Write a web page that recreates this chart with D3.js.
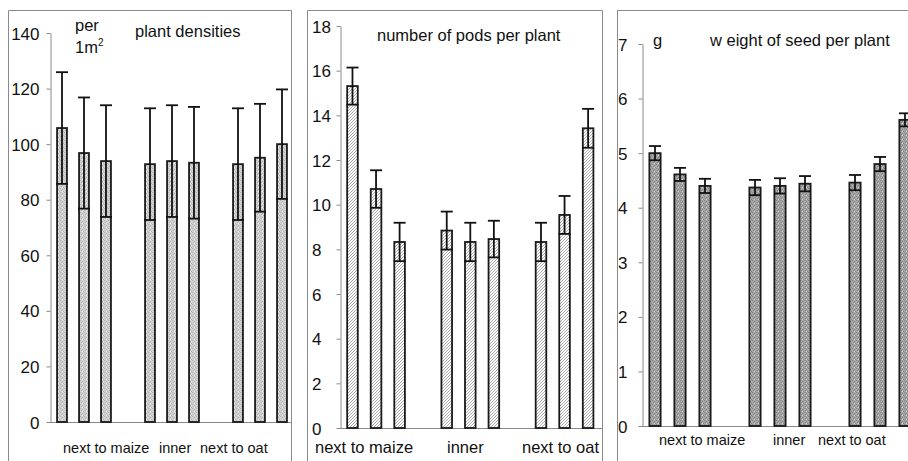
<!DOCTYPE html>
<html>
<head>
<meta charset="utf-8">
<script src="https://cdn.jsdelivr.net/npm/d3@7/dist/d3.min.js"></script>
<style>
  html, body { margin: 0; padding: 0; background: #fff; }
  svg { display: block; font-family: "Liberation Sans", Arial, sans-serif; }
</style>
</head>
<body>
<svg id="chart" width="908" height="461"></svg>
<script>
// Plot positions: three plots per location, with an empty slot between locations
const slots = ["m1", "m2", "m3", "gap1", "i1", "i2", "i3", "gap2", "o1", "o2", "o3"];
const barSlots = ["m1", "m2", "m3", "i1", "i2", "i3", "o1", "o2", "o3"];
const locations = ["next to maize", "inner", "next to oat"];

// Plant densities (plants per 1 m²), mean and error
const densityMean = [105.8, 96.8, 93.9, 92.8, 93.9, 93.3, 92.8, 95.1, 100.0];
const densityErr  = [20.1, 20.0, 20.1, 20.1, 20.1, 20.1, 20.1, 19.4, 19.7];
const densityTicks = [0, 20, 40, 60, 80, 100, 120, 140];

// Number of pods per plant
const podsMean = [15.31, 10.70, 8.33, 8.84, 8.33, 8.46, 8.33, 9.54, 13.42];
const podsErr  = [0.83, 0.84, 0.86, 0.85, 0.86, 0.82, 0.86, 0.85, 0.87];
const podsTicks = [0, 2, 4, 6, 8, 10, 12, 14, 16, 18];

// Weight of seed per plant (g)
const seedMean = [5.00, 4.61, 4.40, 4.37, 4.40, 4.44, 4.46, 4.80, 5.61];
const seedErr  = [0.13, 0.12, 0.13, 0.14, 0.14, 0.14, 0.14, 0.13, 0.12];
const seedTicks = [0, 1, 2, 3, 4, 5, 6, 7];

const svg = d3.select("#chart");
const defs = svg.append("defs");

// Fill patterns: light stipple, diagonal hatch, dark stipple
function stipple(id, base, dark, light) {
  const p = defs.append("pattern").attr("id", id)
    .attr("patternUnits", "userSpaceOnUse").attr("width", 4).attr("height", 4);
  p.append("rect").attr("width", 4).attr("height", 4).attr("fill", base);
  [[0, 0], [2, 1], [1, 2], [3, 3]].forEach(([x, y]) =>
    p.append("rect").attr("x", x).attr("y", y).attr("width", 1).attr("height", 1).attr("fill", dark));
  p.append("rect").attr("x", 2).attr("y", 3).attr("width", 1).attr("height", 1).attr("fill", light);
}
stipple("stippleLight", "#d2d2d2", "#b0b0b0", "#f0f0f0");
stipple("stippleDark", "#a6a6a6", "#848484", "#d4d4d4");
{
  const p = defs.append("pattern").attr("id", "hatch")
    .attr("patternUnits", "userSpaceOnUse").attr("width", 3).attr("height", 3);
  p.append("rect").attr("width", 3).attr("height", 3).attr("fill", "#fff");
  p.append("path").attr("d", "M-1,1 L1,-1 M0,3 L3,0 M2,4 L4,2")
    .attr("stroke", "#a0a0a0").attr("stroke-width", 0.9);
}

const panels = [
  {
    frame: [8.5, 10.5, 291.5], mean: densityMean, err: densityErr, ticks: densityTicks,
    domain: [0, 140], yRange: [422, 33], xRange: [51, 293], axisX: 50,
    fill: "url(#stippleLight)", tickAnchor: "end", tickX: 39.5, tickSize: 17,
    title: { text: "plant densities", x: 135, y: 37, size: 16.5 },
    unit: [{ text: "per", x: 75, y: 31 }, { text: "1m", sup: "2", x: 75, y: 53 }],
    labels: { x: [63, 159, 200], y: 453, size: 14.5 }
  },
  {
    frame: [307.5, 10.5, 602.5], mean: podsMean, err: podsErr, ticks: podsTicks,
    domain: [0, 18], yRange: [428, 26], xRange: [340.7, 599.9], axisX: 340,
    fill: "url(#hatch)", tickAnchor: "start", tickX: 312, tickSize: 17,
    title: { text: "number of pods per plant", x: 377, y: 41, size: 16.5 },
    unit: [],
    labels: { x: [315, 447, 522], y: 453, size: 16.5 }
  },
  {
    frame: [617.5, 10.5, 930], mean: seedMean, err: seedErr, ticks: seedTicks,
    domain: [0, 7], yRange: [426, 44], xRange: [642.5, 917.5], axisX: 642,
    fill: "url(#stippleDark)", tickAnchor: "start", tickX: 618, tickSize: 17,
    title: { text: "w eight of seed per plant", x: 710, y: 46, size: 16.5 },
    unit: [{ text: "g", x: 653, y: 46 }],
    labels: { x: [659, 773, 818], y: 445, size: 14.5 }
  }
];

panels.forEach(pn => {
  const g = svg.append("g");
  const [fx, fy, fr] = pn.frame;

  // panel frame (open at the bottom edge of the page)
  g.append("path")
    .attr("d", `M${fx},475 V${fy} H${fr} V475`)
    .attr("fill", "none").attr("stroke", "#8a8a8a").attr("stroke-width", 1);

  const x = d3.scaleBand().domain(slots).range(pn.xRange)
    .paddingInner(0.55).paddingOuter(0.275);
  const y = d3.scaleLinear().domain(pn.domain).range(pn.yRange);

  // y axis
  const axis = g.append("g").attr("transform", `translate(${pn.axisX + 0.5},0)`)
    .call(d3.axisLeft(y).tickValues(pn.ticks).tickSize(4).tickSizeOuter(0).tickFormat(d3.format("d")));
  axis.select(".domain").attr("stroke", "#8a8a8a");
  axis.selectAll(".tick line").attr("stroke", "#8a8a8a");
  axis.selectAll(".tick text")
    .attr("font-size", pn.tickSize).attr("fill", "#111")
    .attr("font-family", "'Liberation Sans', Arial, sans-serif")
    .attr("text-anchor", pn.tickAnchor)
    .attr("x", pn.tickX - pn.axisX - 0.5)
    .attr("dy", "0.36em");

  // baseline
  g.append("line")
    .attr("x1", pn.axisX).attr("x2", Math.min(fr, 930))
    .attr("y1", y(0) + 0.5).attr("y2", y(0) + 0.5)
    .attr("stroke", "#8a8a8a").attr("stroke-width", 1);

  const rows = barSlots.map((s, i) => ({ slot: s, mean: pn.mean[i], err: pn.err[i] }));

  // bars
  g.selectAll("rect.bar").data(rows).enter().append("rect")
    .attr("class", "bar")
    .attr("x", d => x(d.slot))
    .attr("width", x.bandwidth())
    .attr("y", d => y(d.mean))
    .attr("height", d => y(0) - y(d.mean))
    .attr("fill", pn.fill)
    .attr("stroke", "#1a1a1a").attr("stroke-width", 1.8);

  // error bars
  const eb = g.selectAll("g.err").data(rows).enter().append("g").attr("class", "err")
    .attr("stroke", "#111").attr("stroke-width", 1.8).attr("fill", "none");
  const cx = d => x(d.slot) + x.bandwidth() / 2;
  eb.append("line")
    .attr("x1", cx).attr("x2", cx)
    .attr("y1", d => y(d.mean - d.err)).attr("y2", d => y(d.mean + d.err));
  eb.append("line")
    .attr("x1", d => cx(d) - 6).attr("x2", d => cx(d) + 6)
    .attr("y1", d => y(d.mean + d.err)).attr("y2", d => y(d.mean + d.err));
  eb.append("line")
    .attr("x1", d => cx(d) - 6).attr("x2", d => cx(d) + 6)
    .attr("y1", d => y(d.mean - d.err)).attr("y2", d => y(d.mean - d.err));

  // title and unit
  g.append("text").attr("x", pn.title.x).attr("y", pn.title.y)
    .attr("font-size", pn.title.size).attr("fill", "#111").text(pn.title.text);
  pn.unit.forEach(u => {
    const t = g.append("text").attr("x", u.x).attr("y", u.y)
      .attr("font-size", 16.5).attr("fill", "#111").text(u.text);
    if (u.sup) t.append("tspan").attr("font-size", 10).attr("dy", -7).text(u.sup);
  });

  // location labels
  g.selectAll("text.loc").data(locations).enter().append("text")
    .attr("class", "loc")
    .attr("x", (d, i) => pn.labels.x[i]).attr("y", pn.labels.y)
    .attr("font-size", pn.labels.size).attr("fill", "#111")
    .text(d => d);
});
</script>
</body>
</html>
